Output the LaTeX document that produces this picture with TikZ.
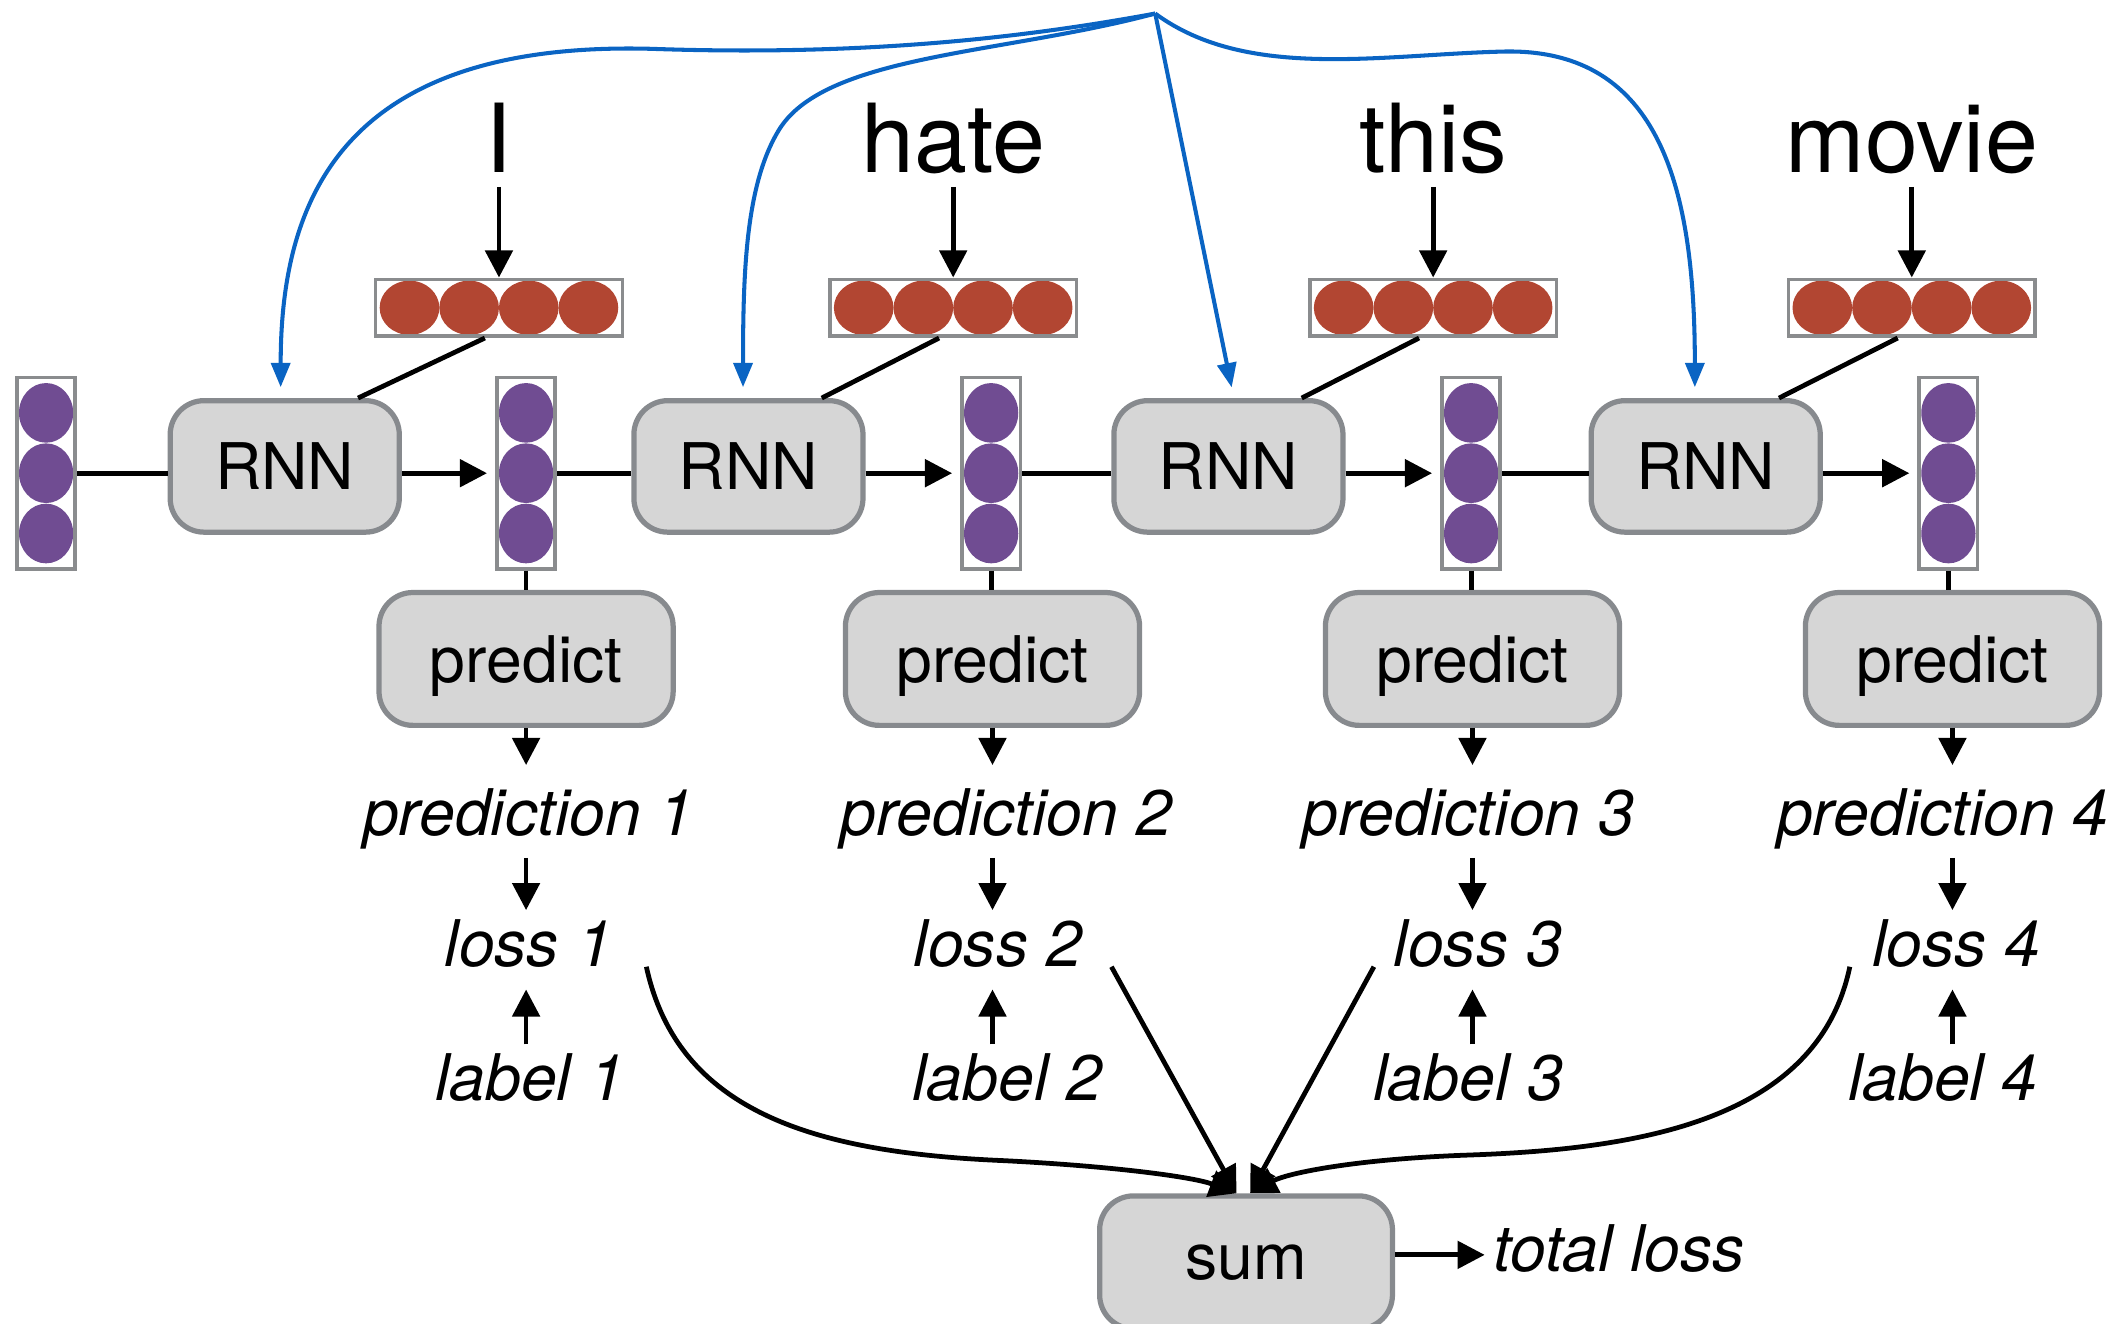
\documentclass[tikz,border=0pt]{standalone}
\usepackage{fontspec}
\setmainfont{TeX Gyre Heros}
\usetikzlibrary{arrows.meta}
\definecolor{gristrait}{RGB}{135,138,142}
\definecolor{grisfond}{RGB}{214,214,214}
\definecolor{grisvec}{RGB}{138,140,142}
\definecolor{rougemot}{RGB}{178,70,50}
\definecolor{violetcach}{RGB}{112,76,146}
\definecolor{bleufleche}{RGB}{10,100,195}

\begin{document}
\begin{tikzpicture}[x=0.02cm, y=-0.02cm, line width=2pt, >={Triangle[length=0.4cm,width=0.4cm]}]
\tikzset{boite/.style={draw=gristrait, fill=grisfond, line width=2.2pt, rounded corners=0.5cm, inner sep=0, text depth=0pt, font=\fontsize{27}{32}\selectfont},
  rnn/.style={boite, minimum width=3.38cm, minimum height=1.94cm},
  predit/.style={boite, minimum width=4.34cm, minimum height=1.96cm},
  somme/.style={boite, minimum width=4.32cm, minimum height=1.96cm},
  mot/.style={anchor=base, inner sep=0.18cm, text depth=0pt, font=\fontsize{40}{48}\selectfont},
  etiq/.style={anchor=base, inner sep=0.1cm, text height=0.7cm, text depth=0.2cm, font=\fontsize{27}{32}\selectfont\itshape},
  vecrouge/.style={draw=grisvec, fill=white, line width=1.5pt, inner sep=0, minimum width=3.64cm, minimum height=0.84cm,
    path picture={
      \fill[rougemot] ([xshift=-1.32cm]path picture bounding box.center) ellipse (0.44cm and 0.40cm);
      \fill[rougemot] ([xshift=-0.44cm]path picture bounding box.center) ellipse (0.44cm and 0.40cm);
      \fill[rougemot] ([xshift=0.44cm]path picture bounding box.center) ellipse (0.44cm and 0.40cm);
      \fill[rougemot] ([xshift=1.32cm]path picture bounding box.center) ellipse (0.44cm and 0.40cm);}},
  vecviolet/.style={draw=grisvec, fill=white, line width=1.5pt, inner sep=0, minimum width=0.86cm, minimum height=2.82cm,
    path picture={
      \fill[violetcach] ([yshift=0.89cm]path picture bounding box.center) ellipse (0.40cm and 0.44cm);
      \fill[violetcach] (path picture bounding box.center) ellipse (0.40cm and 0.44cm);
      \fill[violetcach] ([yshift=-0.89cm]path picture bounding box.center) ellipse (0.40cm and 0.44cm);}},
  bleuf/.style={draw=bleufleche, line width=1.7pt, -{Triangle[length=0.36cm,width=0.28cm]}, shorten >=0.16cm}}
\useasboundingbox (0,0) rectangle (1568,976);

\node[mot] (W1) at (368,127) {I};
\node[mot] (W2) at (703,127) {hate};
\node[mot] (W3) at (1057,127) {this};
\node[mot] (W4) at (1410,127) {movie};
\node[vecrouge] (E1) at (368,227) {};
\node[vecrouge] (E2) at (703,227) {};
\node[vecrouge] (E3) at (1057,227) {};
\node[vecrouge] (E4) at (1410,227) {};
\node[vecviolet] (H0) at (34,349) {};
\node[vecviolet] (H1) at (388,349) {};
\node[vecviolet] (H2) at (731,349) {};
\node[vecviolet] (H3) at (1085,349) {};
\node[vecviolet] (H4) at (1437,349) {};
\node[rnn] (R1) at (210,344) {RNN};
\node[rnn] (R2) at (552,344) {RNN};
\node[rnn] (R3) at (906,344) {RNN};
\node[rnn] (R4) at (1258,344) {RNN};
\node[predit] (P1) at (388,486) {predict};
\node[predit] (P2) at (732,486) {predict};
\node[predit] (P3) at (1086,486) {predict};
\node[predit] (P4) at (1440,486) {predict};
\node[etiq] (Q1) at (390,616) {prediction 1};
\node[etiq] (Q2) at (742,616) {prediction 2};
\node[etiq] (Q3) at (1083,616) {prediction 3};
\node[etiq] (Q4) at (1433,616) {prediction 4};
\node[etiq] (L1) at (390,713) {loss 1};
\node[etiq] (L2) at (736,713) {loss 2};
\node[etiq] (L3) at (1090,713) {loss 3};
\node[etiq] (L4) at (1443,713) {loss 4};
\node[etiq] (Y1) at (391,812) {label 1};
\node[etiq] (Y2) at (743,812) {label 2};
\node[etiq] (Y3) at (1083,812) {label 3};
\node[etiq] (Y4) at (1433,812) {label 4};
\node[somme] (S) at (919,931) {sum};
\node[etiq, anchor=base west] (T) at (1095,938) {total loss};
\coordinate (src) at (852,10);

\draw[->] (W1.south) -- (E1.north);
\draw[->] (W2.south) -- (E2.north);
\draw[->] (W3.south) -- (E3.north);
\draw[->] (W4.south) -- (E4.north);
\draw (E1.245) -- (R1.43);
\draw (E2.245) -- (R2.43);
\draw (E3.245) -- (R3.43);
\draw (E4.245) -- (R4.43);
\draw (H0.east) -- (H0.east -| R1.west);
\draw[->, shorten >=0.12cm] (H1.west -| R1.east) -- (H1.west);
\draw (H1.east) -- (H1.east -| R2.west);
\draw[->, shorten >=0.12cm] (H2.west -| R2.east) -- (H2.west);
\draw (H2.east) -- (H2.east -| R3.west);
\draw[->, shorten >=0.12cm] (H3.west -| R3.east) -- (H3.west);
\draw (H3.east) -- (H3.east -| R4.west);
\draw[->, shorten >=0.12cm] (H4.west -| R4.east) -- (H4.west);
\draw (H1.south) -- (H1.south |- P1.north);
\draw (H2.south) -- (H2.south |- P2.north);
\draw (H3.south) -- (H3.south |- P3.north);
\draw (H4.south) -- (H4.south |- P4.north);
\draw[->, shorten >=0.2cm] (P1.south) -- (P1.south |- Q1.north);
\draw[->, shorten >=0.2cm] (P2.south) -- (P2.south |- Q2.north);
\draw[->, shorten >=0.2cm] (P3.south) -- (P3.south |- Q3.north);
\draw[->, shorten >=0.2cm] (P4.south) -- (P4.south |- Q4.north);
\draw[->] (Q1.south -| P1.south) -- (L1.north -| P1.south);
\draw[->] (Q2.south -| P2.south) -- (L2.north -| P2.south);
\draw[->] (Q3.south -| P3.south) -- (L3.north -| P3.south);
\draw[->] (Q4.south -| P4.south) -- (L4.north -| P4.south);
\draw[->] (Y1.north -| P1.south) -- (L1.south -| P1.south);
\draw[->] (Y2.north -| P2.south) -- (L2.south -| P2.south);
\draw[->] (Y3.north -| P3.south) -- (L3.south -| P3.south);
\draw[->] (Y4.north -| P4.south) -- (L4.south -| P4.south);
\draw[->] ([xshift=0.36cm]L1.base east) .. controls (500,820) and (600,850) .. (740,856) .. controls (820,860) and (880,868) .. ([xshift=-0.14cm]S.north);
\draw[->] ([xshift=0.3cm]L2.base east) -- ([xshift=-0.14cm]S.north);
\draw[->] ([xshift=-0.16cm]L3.base west) -- ([xshift=0.06cm]S.north);
\draw[->] ([xshift=-0.2cm]L4.base west) .. controls (1340,830) and (1200,848) .. (1080,852) .. controls (1000,855) and (950,865) .. ([xshift=0.06cm]S.north);
\draw[->] (T.west -| S.east) -- (T.west);

\draw[bleuf] (src) .. controls (770,25) and (650,42) .. (480,36) .. controls (250,30) and (207,150) .. ([xshift=-0.06cm]R1.north);
\draw[bleuf] (src) .. controls (740,40) and (610,40) .. (575,95) .. controls (550,135) and (548,200) .. ([xshift=-0.08cm]R2.north);
\draw[bleuf] (src) -- ([xshift=0.08cm]R3.north);
\draw[bleuf] (src) .. controls (920,60) and (1020,40) .. (1110,38) .. controls (1225,36) and (1250,140) .. ([xshift=-0.16cm]R4.north);
\end{tikzpicture}
\end{document}
